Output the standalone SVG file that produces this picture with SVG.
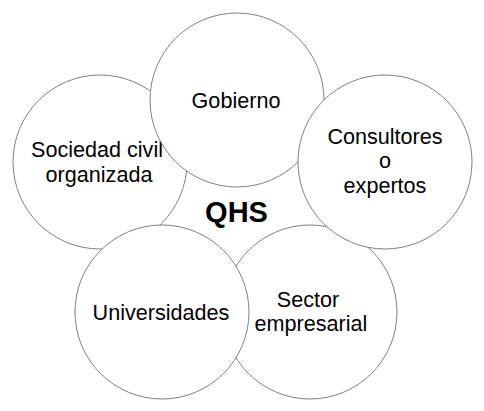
<svg xmlns="http://www.w3.org/2000/svg" width="484" height="411" viewBox="0 0 484 411">
  <style>
    .c { fill: #ffffff; stroke: #808080; stroke-width: 1; }
    .t { font-family: "Liberation Sans", Arial, sans-serif; font-size: 21.6px; fill: #000000; text-anchor: middle; }
    .q { font-family: "Liberation Sans", Arial, sans-serif; font-size: 29px; font-weight: bold; fill: #000000; text-anchor: middle; }
  </style>
  <rect width="484" height="411" fill="#ffffff"/>
  <g id="sociedad">
    <circle class="c" cx="100" cy="162" r="87"/>
    <text class="t" x="97" y="157">Sociedad civil</text>
    <text class="t" x="99" y="182">organizada</text>
  </g>
  <g id="gobierno">
    <circle class="c" cx="237" cy="100" r="87"/>
    <text class="t" x="236" y="108">Gobierno</text>
  </g>
  <g id="sector">
    <circle class="c" cx="310" cy="312" r="87"/>
    <text class="t" x="308" y="307">Sector</text>
    <text class="t" x="311" y="331">empresarial</text>
  </g>
  <g id="consultores">
    <circle class="c" cx="385" cy="162" r="87"/>
    <text class="t" x="385" y="144">Consultores</text>
    <text class="t" x="385" y="168">o</text>
    <text class="t" x="385" y="193">expertos</text>
  </g>
  <g id="universidades">
    <circle class="c" cx="162" cy="312" r="87"/>
    <text class="t" x="161" y="320">Universidades</text>
  </g>
  <g id="qhs">
    <text class="q" x="236.5" y="222">QHS</text>
  </g>
</svg>
